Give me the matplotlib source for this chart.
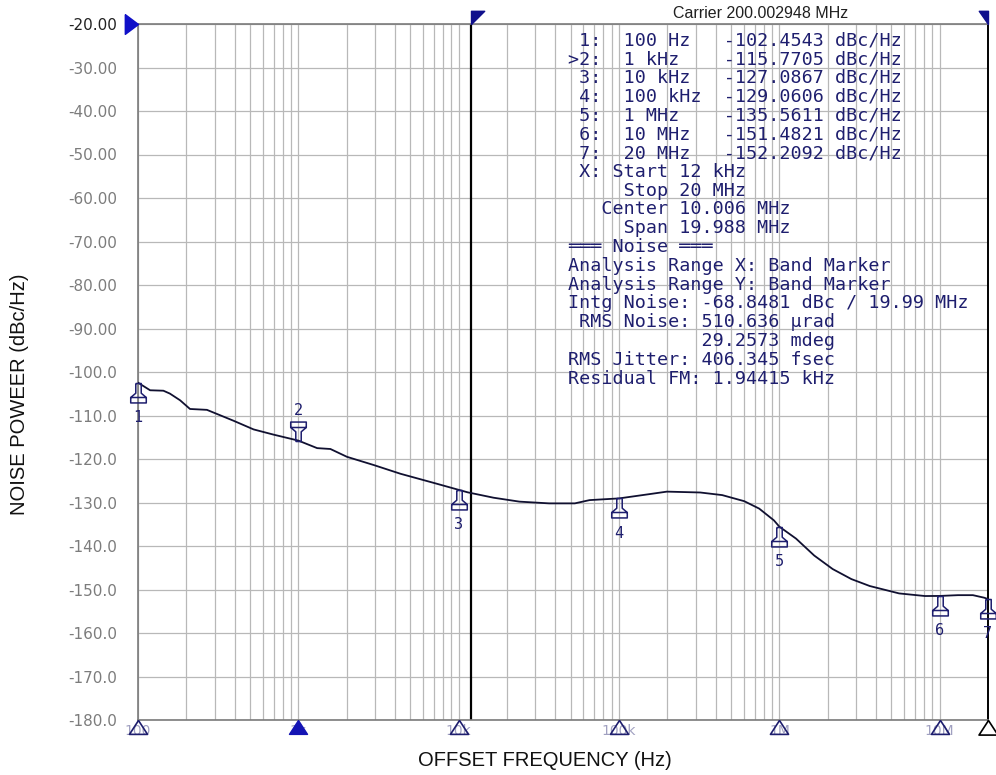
# -*- coding: utf-8 -*-

import numpy as np
import matplotlib.pyplot as plt
from matplotlib.path import Path

# phase noise trace
freq_hz = [100, 119, 144, 158, 183, 211, 269, 394, 526, 701,
           1000, 1310, 1585, 2010, 2960, 4340, 7000,
           10000, 11400, 16500, 23900, 36600, 53000, 65500,
           100000, 153000, 199000, 321000, 440000, 604000, 748000, 924000,
           1e6, 1.27e6, 1.65e6, 2.15e6, 2.81e6, 3.66e6, 5.58e6, 8.09e6,
           1e7, 1.3e7, 1.61e7, 1.9e7, 2e7]
noise_dbc = [-102.45, -104.2, -104.3, -104.96, -106.5, -108.5, -108.7, -111.2, -113.2, -114.4,
             -115.77, -117.5, -117.7, -119.5, -121.4, -123.4, -125.5,
             -127.09, -127.67, -128.9, -129.8, -130.2, -130.2, -129.45,
             -129.06, -128.1, -127.5, -127.7, -128.3, -129.7, -131.4, -134.1,
             -135.56, -138.3, -142.2, -145.3, -147.6, -149.2, -150.9, -151.5,
             -151.48, -151.3, -151.3, -151.9, -152.21]

marker_freq = [100, 1e3, 1e4, 1e5, 1e6, 1e7, 2e7]
marker_level = [-102.4543, -115.7705, -127.0867, -129.0606, -135.5611, -151.4821, -152.2092]

y_ticks = list(range(-180, -19, 10))
y_labels = ['%.1f' % v if v <= -100 else '%.2f' % v for v in y_ticks]
x_ticks = [1e2, 1e3, 1e4, 1e5, 1e6, 1e7]
x_labels = ['100', '1k', '10k', '100k', '1M', '10M']

info_lines = [
    ' 1:  100 Hz   -102.4543 dBc/Hz',
    '>2:  1 kHz    -115.7705 dBc/Hz',
    ' 3:  10 kHz   -127.0867 dBc/Hz',
    ' 4:  100 kHz  -129.0606 dBc/Hz',
    ' 5:  1 MHz    -135.5611 dBc/Hz',
    ' 6:  10 MHz   -151.4821 dBc/Hz',
    ' 7:  20 MHz   -152.2092 dBc/Hz',
    ' X: Start 12 kHz',
    '     Stop 20 MHz',
    '   Center 10.006 MHz',
    '     Span 19.988 MHz',
    '═══ Noise ═══',
    'Analysis Range X: Band Marker',
    'Analysis Range Y: Band Marker',
    'Intg Noise: -68.8481 dBc / 19.99 MHz',
    ' RMS Noise: 510.636 µrad',
    '            29.2573 mdeg',
    'RMS Jitter: 406.345 fsec',
    'Residual FM: 1.94415 kHz',
]

W, H = 996, 775
navy = '#1e1e6e'

fig = plt.figure(figsize=(W / 100, H / 100), dpi=100)
ax = fig.add_axes([138 / W, (H - 720) / H, 850 / W, 696 / H])
ax.set_xscale('log')
ax.set_xlim(100, 2e7)
ax.set_ylim(-180, -20)

ax.set_yticks(y_ticks)
ax.set_yticklabels(y_labels)
ax.set_xticks(x_ticks)
ax.set_xticklabels(x_labels)
ax.grid(which='both', color='#b8b8b8', lw=0.9)
ax.tick_params(axis='both', which='both', length=0)
ax.tick_params(axis='y', pad=15, labelsize=11, labelcolor='#7c7c7c')
ax.tick_params(axis='x', pad=3, labelsize=10, labelcolor='#a0a0c0')
ax.get_yticklabels()[-1].set_color('#222222')
for s in ['left', 'top', 'bottom']:
    ax.spines[s].set_color('#7a7a7a')
    ax.spines[s].set_linewidth(1.2)
ax.spines['right'].set_color('black')
ax.spines['right'].set_linewidth(1.4)

ax.plot(freq_hz, noise_dbc, color='#101030', lw=1.3, zorder=3)

# band marker start line
ax.axvline(12e3, color='black', lw=1.6, zorder=2)

# flags and reference marker
flag_l = Path([(0, 0), (0, 1), (1, 1), (0, 0)])
flag_r = Path([(0, 0), (0, 1), (-0.7, 1), (0, 0)])
ref_tri = Path([(-1, 0.75), (0, 0), (-1, -0.75), (-1, 0.75)])
ax.plot([12e3], [-20], marker=flag_l, ms=19, color='#10108c', clip_on=False, zorder=5)
ax.plot([2e7], [-20], marker=flag_r, ms=19, color='#10108c', clip_on=False, zorder=5)
ax.plot([100], [-20], marker=ref_tri, ms=19, color='#1010c8', clip_on=False, zorder=5)

# bottom triangles
tri = Path([(0, 0), (0.65, -1), (-0.65, -1), (0, 0)])
for f in x_ticks:
    if f == 1e3:
        ax.plot([f], [-180], marker=tri, ms=20, color='#1414b4', clip_on=False, zorder=5)
    else:
        ax.plot([f], [-180], marker=tri, ms=20, mfc='none', mec=navy, mew=1.2,
                clip_on=False, zorder=5)
ax.plot([2e7], [-180], marker=tri, ms=21, mfc='none', mec='black', mew=1.2,
        clip_on=False, zorder=5)

# trace markers
mk_v = [(-0.14, 0), (0.14, 0), (0.14, -0.5), (0.4, -0.72), (0.4, -1), (-0.4, -1),
        (-0.4, -0.72), (-0.14, -0.5), (-0.14, 0),
        (-0.4, -0.72), (0.4, -0.72)]
mk_c = [Path.MOVETO] + [Path.LINETO] * 8 + [Path.MOVETO, Path.LINETO]
mk_up = Path(mk_v, mk_c)
mk_down = Path([(x, -y) for x, y in mk_v], mk_c)
for i, (f, lv) in enumerate(zip(marker_freq, marker_level)):
    up = i != 1
    ax.plot([f], [lv], marker=mk_up if up else mk_down, ms=28, mfc='none', mec=navy,
            mew=1.1, clip_on=False, zorder=6)
    ax.annotate(str(i + 1), (f, lv), xytext=(0, -25 if up else 22),
                textcoords='offset points', ha='center', va='center',
                fontsize=11, color=navy, family='DejaVu Sans Mono', annotation_clip=False)

# marker readout
for i, line in enumerate(info_lines):
    fig.text(568 / W, 1 - (38.3 + 18.8 * i) / H, line, ha='left', va='center_baseline',
             fontsize=13.2, color=navy, family='DejaVu Sans Mono')

fig.text(761 / W, 1 - 13 / H, 'Carrier 200.002948 MHz', ha='center', va='center',
         fontsize=11.5, color='#202020', family='Liberation Sans')

fig.text(20 / W, 1 - 394 / H, 'NOISE POWEER (dBc/Hz)', rotation=90, ha='center',
         va='center', fontsize=14.5, family='Liberation Sans', color='#111111')
fig.text(545 / W, 1 - 760 / H, 'OFFSET FREQUENCY (Hz)', ha='center', va='center',
         fontsize=14.5, family='Liberation Sans', color='#111111')

fig.savefig('out.png', dpi=100, facecolor='white')
